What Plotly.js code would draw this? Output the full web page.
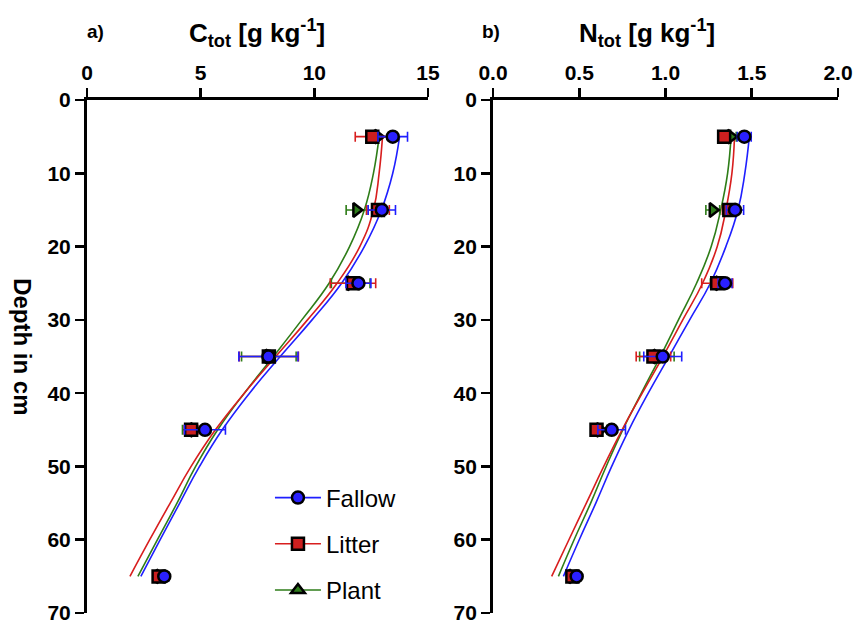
<!DOCTYPE html>
<html>
<head>
<meta charset="utf-8">
<script src="https://cdn.plot.ly/plotly-3.0.1.min.js"></script>
<style>html,body{margin:0;padding:0;background:#fff;}#chart{width:857px;height:624px;}</style>
</head>
<body>
<div id="chart"></div>
<script>
// ---- data ----
const depths = [5, 15, 25, 35, 45, 65];
const seriesNames = ["Fallow", "Litter", "Plant"];

// Panel a: C_tot [g kg-1]
const cFallow = [13.45, 12.97, 11.94, 7.98, 5.19, 3.40];
const cFallowErr = [0.65, 0.60, 0.55, 1.30, 0.90, 0.20];
const cLitter = [12.55, 12.80, 11.70, 8.00, 4.58, 3.15];
const cLitterErr = [0.75, 0.50, 1.00, 1.30, 0.30, 0.20];
const cPlant = [12.80, 11.85, 11.60, 8.00, 4.70, 3.20];
const cPlantErr = [0.50, 0.45, 0.85, 1.20, 0.50, 0.20];

// Panel b: N_tot [g kg-1]
const nFallow = [1.457, 1.403, 1.345, 0.984, 0.688, 0.485];
const nFallowErr = [0.04, 0.05, 0.04, 0.11, 0.08, 0.02];
const nLitter = [1.340, 1.370, 1.300, 0.930, 0.600, 0.460];
const nLitterErr = [0.03, 0.04, 0.09, 0.10, 0.03, 0.02];
const nPlant = [1.380, 1.274, 1.310, 0.950, 0.620, 0.460];
const nPlantErr = [0.03, 0.04, 0.05, 0.10, 0.04, 0.02];

// fitted curves
const curveDepths = [5, 10, 15, 20, 25, 30, 35, 40, 45, 50, 55, 60, 65];
const cFitFallow = [13.75, 13.45, 12.95, 12.20, 11.20, 9.90, 8.50, 7.15, 5.95, 4.95, 4.08, 3.22, 2.37];
const cFitLitter = [13.00, 12.85, 12.60, 12.00, 11.00, 9.70, 8.30, 6.92, 5.65, 4.58, 3.66, 2.76, 1.89];
const cFitPlant  = [12.85, 12.60, 12.20, 11.55, 10.65, 9.45, 8.20, 6.92, 5.75, 4.78, 3.96, 3.10, 2.24];
const nFitFallow = [1.486, 1.460, 1.420, 1.350, 1.260, 1.140, 1.020, 0.900, 0.788, 0.688, 0.596, 0.500, 0.408];
const nFitLitter = [1.400, 1.385, 1.350, 1.300, 1.215, 1.100, 0.985, 0.865, 0.748, 0.642, 0.541, 0.440, 0.340];
const nFitPlant  = [1.380, 1.360, 1.320, 1.265, 1.180, 1.075, 0.970, 0.860, 0.752, 0.656, 0.566, 0.470, 0.379];

const cTicks = [0, 5, 10, 15];
const nTicks = [0, 0.5, 1.0, 1.5, 2.0];
const nTickText = ["0.0", "0.5", "1.0", "1.5", "2.0"];
const depthTicks = [0, 10, 20, 30, 40, 50, 60, 70];

// ---- styles ----
const colors = {Fallow: "#1f1fff", Litter: "#d81e1e", Plant: "#2e7d18"};
const fills = {Fallow: "#2a20ff", Litter: "#cc1f1f", Plant: "#2f7d1c"};
const symbols = {Fallow: "circle", Litter: "square", Plant: "triangle-right"};
const legendSymbols = {Fallow: "circle", Litter: "square", Plant: "triangle-up"};

function curve(x, name, xa, ya) {
  return {x: x, y: curveDepths, xaxis: xa, yaxis: ya, mode: "lines", type: "scatter",
    line: {color: colors[name], width: 1.6, shape: "spline", smoothing: 1.3}, showlegend: false, hoverinfo: "skip"};
}
function pts(x, err, name, xa, ya) {
  return {x: x, y: depths, xaxis: xa, yaxis: ya, mode: "markers", type: "scatter", showlegend: false,
    error_x: {type: "data", array: err, visible: true, color: colors[name], thickness: 1.6, width: 5},
    marker: {symbol: symbols[name], size: 12, color: fills[name], line: {color: "#000", width: 2.5}}};
}

const traces = [
  curve(cFitPlant, "Plant", "x", "y"),
  curve(cFitLitter, "Litter", "x", "y"),
  curve(cFitFallow, "Fallow", "x", "y"),
  curve(nFitPlant, "Plant", "x2", "y2"),
  curve(nFitLitter, "Litter", "x2", "y2"),
  curve(nFitFallow, "Fallow", "x2", "y2"),
  pts(cPlant, cPlantErr, "Plant", "x", "y"),
  pts(cLitter, cLitterErr, "Litter", "x", "y"),
  pts(cFallow, cFallowErr, "Fallow", "x", "y"),
  pts(nPlant, nPlantErr, "Plant", "x2", "y2"),
  pts(nLitter, nLitterErr, "Litter", "x2", "y2"),
  pts(nFallow, nFallowErr, "Fallow", "x2", "y2")
];
// legend entries
seriesNames.forEach(function (name) {
  traces.push({x: [null], y: [null], xaxis: "x", yaxis: "y", name: name, legendgroup: name,
    mode: "lines+markers", type: "scatter",
    line: {color: colors[name], width: 1.6},
    marker: {symbol: legendSymbols[name], size: 12, color: fills[name], line: {color: "#000", width: 2.5}}});
});

const fontFam = "Liberation Sans, Arial, Helvetica, sans-serif";
const tickFont = {family: fontFam, size: 21, color: "#000", weight: "bold"};
function xAxis(domain, range, tv, tt, anchor) {
  const a = {domain: domain, range: range, side: "top", anchor: anchor, tickmode: "array", tickvals: tv,
    ticks: "outside", ticklen: 9, tickwidth: 2.5, tickcolor: "#000", showline: true, linewidth: 3,
    linecolor: "#000", showgrid: false, zeroline: false, tickfont: tickFont, fixedrange: true,
    ticklabeloverflow: "allow"};
  if (tt) a.ticktext = tt;
  return a;
}
function yAxis(anchor) {
  return {domain: [0.0176, 0.8397], range: [70, 0], anchor: anchor, tickmode: "array", tickvals: depthTicks,
    ticks: "outside", ticklen: 9, tickwidth: 2.5, tickcolor: "#000", showline: true, linewidth: 3,
    linecolor: "#000", showgrid: false, zeroline: false, tickfont: tickFont, fixedrange: true,
    ticklabeloverflow: "allow"};
}

const layout = {
  width: 857, height: 624, margin: {l: 0, r: 0, t: 0, b: 0},
  paper_bgcolor: "#fff", plot_bgcolor: "#fff",
  font: {family: fontFam, color: "#000"},
  xaxis: xAxis([0.1015, 0.4994], [0, 15], cTicks, null, "y"),
  yaxis: yAxis("x"),
  xaxis2: xAxis([0.5753, 0.9778], [0, 2], nTicks, nTickText, "y2"),
  yaxis2: yAxis("x2"),
  showlegend: true,
  legend: {x: 0.315, y: 0.238, xanchor: "left", yanchor: "top", bgcolor: "rgba(0,0,0,0)",
    font: {family: fontFam, size: 24, color: "#000"}, traceorder: "grouped", tracegroupgap: 12,
    itemwidth: 46},
  annotations: [
    {xref: "paper", yref: "paper", x: 0.2999, y: 0.947, xanchor: "center", yanchor: "middle", showarrow: false,
      text: "<b>C<sub>tot</sub> [g kg<sup>-1</sup>]</b>", font: {family: fontFam, size: 26, color: "#000"}},
    {xref: "paper", yref: "paper", x: 0.755, y: 0.947, xanchor: "center", yanchor: "middle", showarrow: false,
      text: "<b>N<sub>tot</sub> [g kg<sup>-1</sup>]</b>", font: {family: fontFam, size: 26, color: "#000"}},
    {xref: "paper", yref: "paper", x: 0.111, y: 0.95, xanchor: "center", yanchor: "middle", showarrow: false,
      text: "<b>a)</b>", font: {family: fontFam, size: 19, color: "#000"}},
    {xref: "paper", yref: "paper", x: 0.573, y: 0.95, xanchor: "center", yanchor: "middle", showarrow: false,
      text: "<b>b)</b>", font: {family: fontFam, size: 19, color: "#000"}},
    {xref: "paper", yref: "paper", x: 0.027, y: 0.445, xanchor: "center", yanchor: "middle", showarrow: false,
      textangle: 90, text: "<b>Depth in cm</b>", font: {family: fontFam, size: 24, color: "#000"}}
  ]
};

Plotly.newPlot("chart", traces, layout, {displayModeBar: false, staticPlot: true});
</script>
</body>
</html>
